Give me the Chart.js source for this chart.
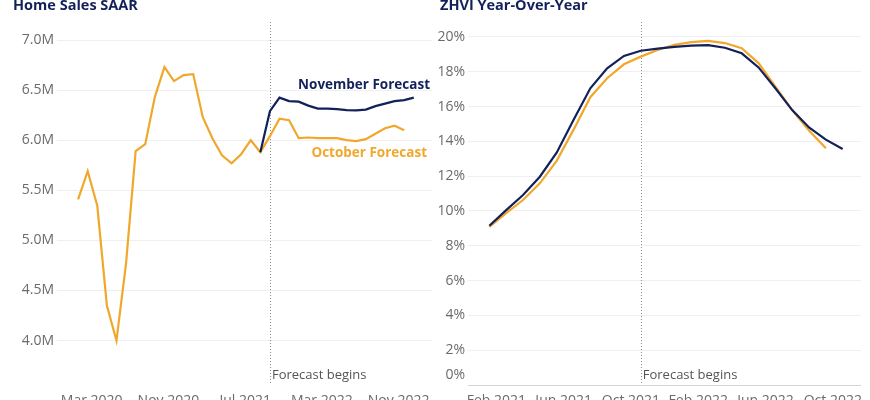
<!DOCTYPE html>
<html>
<head>
<meta charset="utf-8">
<script src="https://cdn.jsdelivr.net/npm/chart.js@4.4.0/dist/chart.umd.min.js"></script>
<style>
  html, body { margin: 0; padding: 0; background: #fff; overflow: hidden; }
  .panel { position: absolute; top: 0; height: 412px; width: 435px; }
  #leftPanel { left: 0; }
  #rightPanel { left: 435px; }
</style>
</head>
<body>
<div class="panel" id="leftPanel"><canvas id="salesChart"></canvas></div>
<div class="panel" id="rightPanel"><canvas id="zhviChart"></canvas></div>
<script>
var navy = "#13215a";
var orange = "#f0a82c";

// Home sales SAAR (millions), one value per month from Feb 2020
var salesOctober = [5.41, 5.69, 5.345, 4.35, 4.00, 4.77, 5.89, 5.96, 6.43, 6.73, 6.59, 6.65, 6.66, 6.23, 6.02, 5.85, 5.77, 5.86, 6.00, 5.88,
  6.04, 6.215, 6.20, 6.02, 6.027, 6.02, 6.02, 6.02, 6.00, 5.99, 6.01, 6.065, 6.12, 6.145, 6.10];
var salesNovemberStart = 19;
var salesNovember = [5.88, 6.29, 6.425, 6.39, 6.385, 6.345, 6.315, 6.315, 6.31, 6.30, 6.297, 6.305, 6.34, 6.365, 6.39, 6.40, 6.425];
var salesTickIdx = [1, 9, 17, 25, 33];
var salesTickLabels = ["Mar 2020", "Nov 2020", "Jul 2021", "Mar 2022", "Nov 2022"];
var salesYTicks = [4.0, 4.5, 5.0, 5.5, 6.0, 6.5, 7.0];
var salesForecastIdx = 20;

// ZHVI year-over-year (%), one value per month from Feb 2021
var zhviNovember = [9.15, 10.05, 10.92, 11.97, 13.35, 15.23, 17.05, 18.2, 18.91, 19.21, 19.33, 19.43, 19.5, 19.53, 19.38, 19.06,
  18.25, 17.05, 15.8, 14.8, 14.1, 13.56];
var zhviOctober = [9.08, 9.88, 10.63, 11.59, 12.88, 14.66, 16.54, 17.63, 18.43, 18.87, 19.25, 19.55, 19.7, 19.78, 19.65, 19.35,
  18.5, 17.15, 15.8, 14.62, 13.6];
var zhviTickIdx = [0, 4, 8, 12, 16, 20];
var zhviTickLabels = ["Feb 2021", "Jun 2021", "Oct 2021", "Feb 2022", "Jun 2022", "Oct 2022"];
var zhviYTicks = [0, 2, 4, 6, 8, 10, 12, 14, 16, 18, 20];
var zhviForecastIdx = 9;

Chart.defaults.font.family = "'Open Sans', sans-serif";
Chart.defaults.color = "#6b6b6b";

function toPoints(values, start) {
  return values.map(function(v, i) { return { x: i + (start || 0), y: v }; });
}

// dotted "forecast begins" line, goes under the series
var forecastPlugin = {
  id: "forecast",
  beforeDatasetsDraw: function(chart) {
    var opts = chart.options.plugins.forecast;
    var area = chart.chartArea;
    var ctx = chart.ctx;
    var x = Math.round(chart.scales.x.getPixelForValue(opts.index)) + 0.5;
    ctx.save();
    ctx.strokeStyle = "#8c8c8c";
    ctx.lineWidth = 1;
    ctx.setLineDash([1, 2]);
    ctx.beginPath();
    ctx.moveTo(x, area.top);
    ctx.lineTo(x, area.bottom);
    ctx.stroke();
    ctx.restore();
  },
  afterDraw: function(chart) {
    var opts = chart.options.plugins.forecast;
    var area = chart.chartArea;
    var ctx = chart.ctx;
    var x = chart.scales.x.getPixelForValue(opts.index);
    ctx.save();
    ctx.fillStyle = "#555";
    ctx.font = "13px 'Open Sans'";
    ctx.textBaseline = "middle";
    ctx.textAlign = "left";
    ctx.fillText("Forecast begins", x + 2, area.bottom - 10);

    // chart title
    ctx.fillStyle = navy;
    ctx.font = "bold 14.5px 'Open Sans'";
    ctx.textBaseline = "alphabetic";
    ctx.fillText(opts.title, opts.titleX, 10);

    // series names next to the lines
    (opts.names || []).forEach(function(n) {
      ctx.fillStyle = n.color;
      ctx.font = "bold 13.5px 'Open Sans'";
      ctx.textAlign = "right";
      ctx.textBaseline = "middle";
      ctx.fillText(n.text, area.right - n.inset, chart.scales.y.getPixelForValue(n.y));
    });

    // bottom y label sits a bit above the baseline
    if (opts.zeroLabel) {
      ctx.fillStyle = "#6b6b6b";
      ctx.font = "14px 'Open Sans'";
      ctx.textAlign = "right";
      ctx.textBaseline = "middle";
      ctx.fillText(opts.zeroLabel, area.left - 3, area.bottom - 10);
    }
    ctx.restore();
  }
};

function xAxis(min, max, tickIdx, tickLabels, offset) {
  return {
    type: "linear",
    min: min,
    max: max,
    grid: { display: false, drawTicks: false },
    border: { display: false },
    afterBuildTicks: function(axis) {
      axis.ticks = tickIdx.map(function(v) { return { value: v }; });
    },
    afterFit: function(axis) { axis.height = 27; },
    ticks: {
      autoSkip: false,
      maxRotation: 0,
      padding: 8,
      labelOffset: offset,
      font: { size: 14 },
      callback: function(v) { return tickLabels[tickIdx.indexOf(v)]; }
    }
  };
}

function lineSet(label, color, points) {
  return {
    label: label,
    data: points,
    borderColor: color,
    backgroundColor: color,
    borderWidth: 2.2,
    pointRadius: 0,
    tension: 0,
    fill: false,
    spanGaps: false
  };
}

// Home Sales SAAR
new Chart(document.getElementById("salesChart"), {
  type: "line",
  data: {
    datasets: [
      lineSet("November Forecast", navy, toPoints(salesNovember, salesNovemberStart)),
      lineSet("October Forecast", orange, toPoints(salesOctober, 0))
    ]
  },
  options: {
    responsive: true,
    maintainAspectRatio: false,
    animation: false,
    layout: { padding: { top: 22, right: 3, left: 0, bottom: 0 } },
    scales: {
      x: xAxis(-2.2, 36.9, salesTickIdx, salesTickLabels, 4),
      y: {
        min: 3.556,
        max: 7.18,
        grid: { color: "#efefef", drawTicks: false },
        border: { display: false },
        afterBuildTicks: function(axis) {
          axis.ticks = salesYTicks.map(function(v) { return { value: v }; });
        },
        afterFit: function(axis) { axis.width = 57; },
        ticks: {
          padding: 3,
          font: { size: 14 },
          callback: function(v) { return v.toFixed(1) + "M"; }
        }
      }
    },
    plugins: {
      legend: { display: false },
      tooltip: { enabled: false },
      forecast: {
        index: salesForecastIdx,
        title: "Home Sales SAAR",
        titleX: 13,
        names: [
          { text: "November Forecast", color: navy, y: 6.55, inset: 2 },
          { text: "October Forecast", color: orange, y: 5.87, inset: 5 }
        ]
      }
    }
  },
  plugins: [forecastPlugin]
});

// ZHVI Year-Over-Year
new Chart(document.getElementById("zhviChart"), {
  type: "line",
  data: {
    datasets: [
      lineSet("November Forecast", navy, toPoints(zhviNovember, 0)),
      lineSet("October Forecast", orange, toPoints(zhviOctober, 0))
    ]
  },
  options: {
    responsive: true,
    maintainAspectRatio: false,
    animation: false,
    layout: { padding: { top: 22, right: 9, left: 0, bottom: 0 } },
    scales: {
      x: xAxis(-1.27, 22.09, zhviTickIdx, zhviTickLabels, 7),
      y: {
        min: 0,
        max: 20.86,
        grid: {
          drawTicks: false,
          color: function(c) { return c.tick && c.tick.value === 0 ? "#d6d6d6" : "#efefef"; }
        },
        border: { display: false },
        afterBuildTicks: function(axis) {
          axis.ticks = zhviYTicks.map(function(v) { return { value: v }; });
        },
        afterFit: function(axis) { axis.width = 33; },
        ticks: {
          padding: 3,
          font: { size: 14 },
          callback: function(v) { return v === 0 ? "" : v + "%"; }
        }
      }
    },
    plugins: {
      legend: { display: false },
      tooltip: { enabled: false },
      forecast: {
        index: zhviForecastIdx,
        title: "ZHVI Year-Over-Year",
        titleX: 5,
        zeroLabel: "0%"
      }
    }
  },
  plugins: [forecastPlugin]
});
</script>
</body>
</html>
